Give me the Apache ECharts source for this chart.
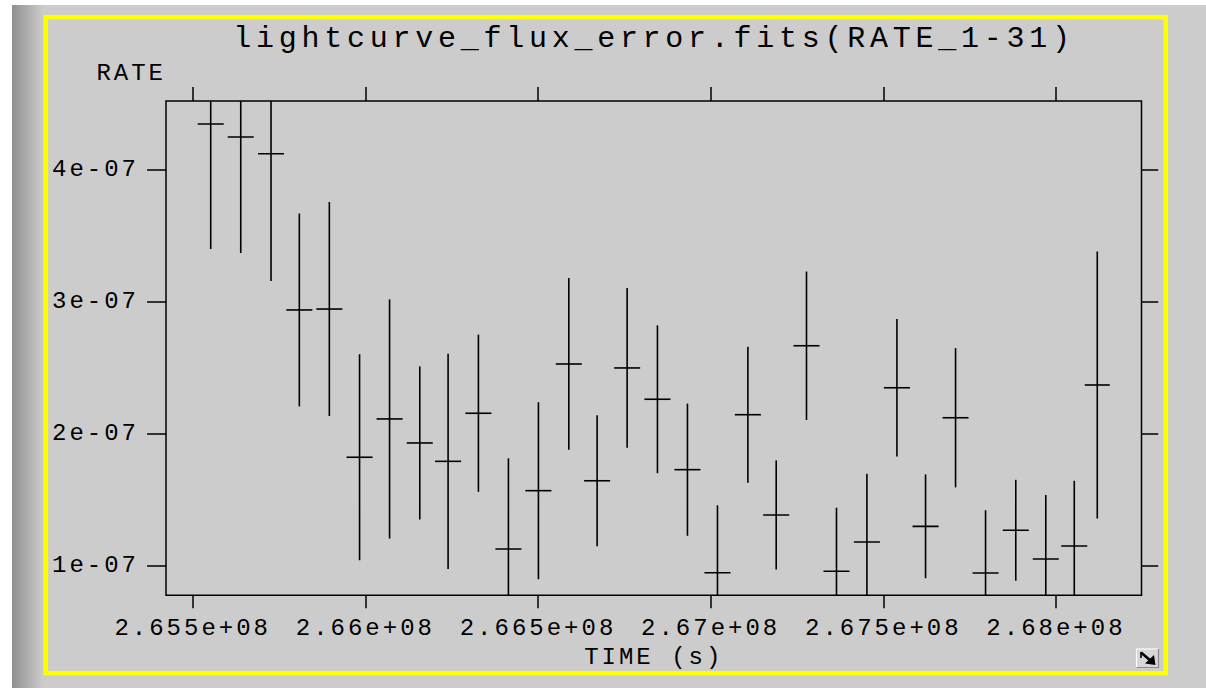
<!DOCTYPE html>
<html>
<head>
<meta charset="utf-8">
<script src="https://cdn.jsdelivr.net/npm/echarts@6/dist/echarts.min.js"></script>
<style>
  html, body { margin: 0; padding: 0; background: #ffffff; }
  #chart { width: 1206px; height: 688px; }
  svg text { letter-spacing: 0.125em; }
  svg text[style*="30px"] { letter-spacing: 0.158em; }
</style>
</head>
<body>
<div id="chart"></div>
<script>
// ---- data ----
const titleText = 'lightcurve_flux_error.fits(RATE_1-31)';
const xName = 'TIME (s)';
const yName = 'RATE';

const times = [
  265552100, 265639100, 265726800, 265808800, 265895700, 265983200, 266070100,
  266157600, 266239600, 266327400, 266414300, 266501200, 266589200, 266671200,
  266758100, 266845900, 266932800, 267019700, 267107800, 267189800, 267277500,
  267364400, 267452500, 267539400, 267622300, 267709200, 267796100, 267883600,
  267970500, 268053000, 268119600
];
const timeErr = [
  37700, 37700, 37700, 37700, 37700, 37700, 37700, 37700, 37700, 37700, 37700,
  37700, 37700, 37700, 37700, 37700, 37700, 37700, 37700, 37700, 37700, 37700,
  37700, 37700, 37700, 37700, 37700, 37700, 37700, 37700, 36200
];
const rates = [
  4.344e-7, 4.245e-7, 4.119e-7, 2.936e-7, 2.943e-7, 1.821e-7, 2.111e-7,
  1.929e-7, 1.790e-7, 2.154e-7, 1.126e-7, 1.568e-7, 2.527e-7, 1.643e-7,
  2.497e-7, 2.260e-7, 1.727e-7, 0.947e-7, 2.143e-7, 1.384e-7, 2.665e-7,
  0.958e-7, 1.179e-7, 2.347e-7, 1.298e-7, 2.120e-7, 0.945e-7, 1.268e-7,
  1.051e-7, 1.149e-7, 2.368e-7
];
const rateErr = [
  0.947e-7, 0.878e-7, 0.964e-7, 0.730e-7, 0.810e-7, 0.780e-7, 0.905e-7,
  0.580e-7, 0.815e-7, 0.595e-7, 0.687e-7, 0.670e-7, 0.650e-7, 0.495e-7,
  0.605e-7, 0.560e-7, 0.500e-7, 0.510e-7, 0.515e-7, 0.413e-7, 0.562e-7,
  0.481e-7, 0.517e-7, 0.521e-7, 0.393e-7, 0.527e-7, 0.474e-7, 0.382e-7,
  0.484e-7, 0.494e-7, 1.010e-7
];
const xTicks = [265500000, 266000000, 266500000, 267000000, 267500000, 268000000];
const xTickLabels = ['2.655e+08', '2.66e+08', '2.665e+08', '2.67e+08', '2.675e+08', '2.68e+08'];
const yTicks = [1e-7, 2e-7, 3e-7, 4e-7];
const yTickLabels = ['1e-07', '2e-07', '3e-07', '4e-07'];
const xRange = [265422650, 268247700];
const yRange = [0.7759e-7, 4.5178e-7];

// ---- build ----
const FONT = '"Liberation Mono", "DejaVu Sans Mono", monospace';
const INK = '#000000';
const seriesData = times.map((t, i) => [t, rates[i], timeErr[i], rateErr[i]]);

function labelFor(ticks, labels) {
  return function (v) {
    let best = 0, bd = Infinity;
    ticks.forEach((t, i) => { const d = Math.abs(t - v); if (d < bd) { bd = d; best = i; } });
    return labels[best];
  };
}

const tickStyle = { color: INK, width: 1.5 };
const chart = echarts.init(document.getElementById('chart'), null, { renderer: 'svg' });

chart.setOption({
  animation: false,
  backgroundColor: '#ffffff',
  grid: {
    left: 166, top: 101, right: 64.5, bottom: 92.7,
    show: true, borderColor: INK, borderWidth: 1.5, backgroundColor: 'transparent'
  },
  xAxis: [
    {
      type: 'value', position: 'bottom', min: xRange[0], max: xRange[1],
      name: xName, nameLocation: 'middle', nameGap: 50,
      nameTextStyle: { fontFamily: FONT, fontSize: 24, color: INK, lineHeight: 24 },
      axisLine: { show: false },
      splitLine: { show: false },
      axisTick: { show: true, inside: false, length: 13, lineStyle: tickStyle, customValues: xTicks },
      axisLabel: {
        show: true, customValues: xTicks, margin: 21.5, color: INK,
        fontFamily: FONT, fontSize: 24, lineHeight: 24,
        formatter: labelFor(xTicks, xTickLabels)
      }
    },
    {
      type: 'value', position: 'top', min: xRange[0], max: xRange[1],
      axisLine: { show: false }, splitLine: { show: false },
      axisTick: { show: true, inside: false, length: 14, lineStyle: tickStyle, customValues: xTicks },
      axisLabel: { show: false }
    }
  ],
  yAxis: [
    {
      type: 'value', position: 'left', min: yRange[0], max: yRange[1],
      name: yName, nameLocation: 'end', nameGap: 15.5,
      nameTextStyle: { fontFamily: FONT, fontSize: 24, color: INK, lineHeight: 24, align: 'right' },
      axisLine: { show: false }, splitLine: { show: false },
      axisTick: { show: true, inside: false, length: 19, lineStyle: tickStyle, customValues: yTicks },
      axisLabel: {
        show: true, customValues: yTicks, margin: 27, color: INK,
        fontFamily: FONT, fontSize: 24,
        formatter: labelFor(yTicks, yTickLabels)
      }
    },
    {
      type: 'value', position: 'right', min: yRange[0], max: yRange[1],
      axisLine: { show: false }, splitLine: { show: false },
      axisTick: { show: true, inside: false, length: 16.7, lineStyle: tickStyle, customValues: yTicks },
      axisLabel: { show: false }
    }
  ],
  graphic: [
    {
      type: 'rect', z: -10, silent: true,
      shape: { x: 12, y: 5, width: 1194, height: 683 },
      style: {
        fill: new echarts.graphic.LinearGradient(0, 0, 1, 0, [
          { offset: 0, color: '#8f8f8f' },
          { offset: 0.026, color: '#cccccc' },
          { offset: 1, color: '#cccccc' }
        ])
      }
    },
    {
      type: 'rect', z: 50, silent: true,
      shape: { x: 45.8, y: 17.2, width: 1120, height: 656 },
      style: { fill: 'none', stroke: '#ffff00', lineWidth: 4.6 }
    },
    {
      type: 'text', z: 50, silent: true,
      x: 654, y: 39,
      style: {
        text: titleText, fill: INK,
        font: '30px ' + FONT, textAlign: 'center', textVerticalAlign: 'middle'
      }
    },
    {
      type: 'group', z: 50, silent: true,
      children: [
        { type: 'rect', shape: { x: 1136, y: 648.5, width: 23, height: 19.5 }, style: { fill: '#d6d6d6' } },
        { type: 'polyline', shape: { points: [[1136.5, 667.5], [1136.5, 649], [1158.5, 649]] }, style: { stroke: '#ffffff', lineWidth: 1.2, fill: 'none' } },
        { type: 'polyline', shape: { points: [[1136.5, 667.5], [1158.5, 667.5], [1158.5, 649]] }, style: { stroke: '#8a8a8a', lineWidth: 1.2, fill: 'none' } },
        { type: 'line', shape: { x1: 1141, y1: 652.5, x2: 1151, y2: 661 }, style: { stroke: '#000', lineWidth: 2.6 } },
        { type: 'polygon', shape: { points: [[1155.5, 665], [1145, 663.5], [1154, 655]] }, style: { fill: '#000' } },
        { type: 'line', shape: { x1: 1141, y1: 652, x2: 1141, y2: 658 }, style: { stroke: '#000', lineWidth: 1.6 } }
      ]
    }
  ],
  series: [
    {
      type: 'custom',
      xAxisIndex: 0, yAxisIndex: 0,
      clip: true,
      data: seriesData,
      encode: { x: 0, y: 1 },
      renderItem: function (params, api) {
        const x = api.value(0), y = api.value(1), xe = api.value(2), ye = api.value(3);
        const lo = api.coord([x, y - ye]);
        const hi = api.coord([x, y + ye]);
        const l = api.coord([x - xe, y]);
        const r = api.coord([x + xe, y]);
        const st = { stroke: INK, lineWidth: 1.6 };
        return {
          type: 'group',
          children: [
            { type: 'line', shape: { x1: lo[0], y1: lo[1], x2: hi[0], y2: hi[1] }, style: st },
            { type: 'line', shape: { x1: l[0], y1: l[1], x2: r[0], y2: r[1] }, style: st }
          ]
        };
      }
    }
  ]
});
</script>
</body>
</html>
